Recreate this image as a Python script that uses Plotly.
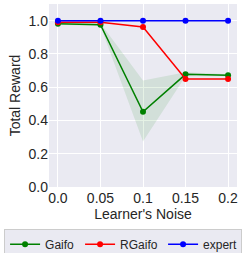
import plotly.graph_objects as go

noise = [0.0, 0.05, 0.1, 0.15, 0.2]
gaifo = [0.982, 0.976, 0.452, 0.677, 0.671]
gaifo_lo = [0.975, 0.968, 0.273, 0.665, 0.665]
gaifo_hi = [0.988, 0.985, 0.640, 0.690, 0.677]
rgaifo = [0.990, 0.991, 0.962, 0.649, 0.649]
expert = [1.0, 1.0, 1.0, 1.0, 1.0]
x_ticks = ["0.0", "0.05", "0.1", "0.15", "0.2"]
y_vals = [0.0, 0.2, 0.4, 0.6, 0.8, 1.0]
y_ticks = ["0.0", "0.2", "0.4", "0.6", "0.8", "1.0"]

fig = go.Figure()
fig.add_trace(go.Scatter(x=noise, y=gaifo_lo, mode="lines", line=dict(width=0),
                         showlegend=False, hoverinfo="skip"))
fig.add_trace(go.Scatter(x=noise, y=gaifo_hi, mode="lines", line=dict(width=0),
                         fill="tonexty", fillcolor="rgba(0,128,0,0.1)",
                         showlegend=False, hoverinfo="skip"))
fig.add_trace(go.Scatter(x=noise, y=gaifo, name="Gaifo", mode="lines+markers", legendwidth=30,
                         line=dict(color="green", width=1.5), marker=dict(size=6, color="green")))
fig.add_trace(go.Scatter(x=noise, y=rgaifo, name="RGaifo", mode="lines+markers", legendwidth=38,
                         line=dict(color="red", width=1.5), marker=dict(size=6, color="red")))
fig.add_trace(go.Scatter(x=noise, y=expert, name="expert", mode="lines+markers", legendwidth=33,
                         line=dict(color="blue", width=1.5), marker=dict(size=6, color="blue")))

fig.update_layout(
    width=249, height=253,
    margin=dict(l=49, r=12, t=4, b=66, autoexpand=False),
    paper_bgcolor="white", plot_bgcolor="#EAEAF2",
    font=dict(family="Liberation Sans, Arial, sans-serif", size=14, color="#262626"),
    xaxis=dict(range=[-0.0105, 0.2105], tickvals=noise, ticktext=x_ticks,
               showgrid=True, gridcolor="white", gridwidth=1, zeroline=False,
               title=dict(text="Learner's Noise", standoff=2, font=dict(size=14)),
               ticks="", ticklabelstandoff=1, automargin=False),
    yaxis=dict(range=[0, 1.1], tickvals=y_vals, ticktext=y_ticks,
               showgrid=True, gridcolor="white", gridwidth=1, zeroline=False,
               title=dict(text="Total Reward", standoff=4, font=dict(size=14)),
               ticks="", automargin=False),
    legend=dict(orientation="h", xref="paper", x=-0.239, xanchor="left",
                yref="paper", y=-0.228, yanchor="top", traceorder="normal",
                bgcolor="#EAEAF2", bordercolor="#CCCCCC", borderwidth=1,
                font=dict(size=12)),
    showlegend=True,
)

fig.write_html("out.html", config={"displayModeBar": False},
               post_script="document.body.style.margin='0';document.body.style.padding='0';")
